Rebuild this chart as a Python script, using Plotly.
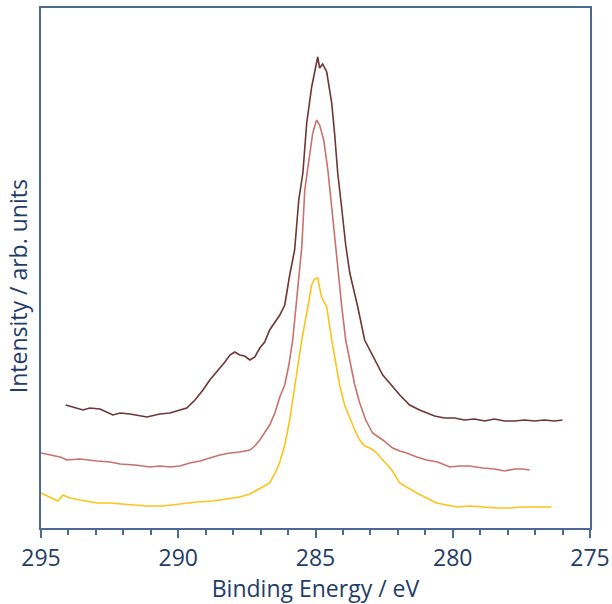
import plotly.graph_objects as go

# Binding energy (eV) and intensity (arb. units)
top_be = [294.1, 293.76, 293.47, 293.22, 292.85, 292.38, 292.12, 291.76, 291.14, 290.67, 290.30, 289.94,
          289.69, 289.39, 289.10, 288.85, 288.48, 288.30, 288.12, 287.94, 287.76, 287.58, 287.39, 287.21,
          287.03, 286.85, 286.67, 286.48, 286.30, 286.12, 285.94, 285.76, 285.61, 285.46, 285.32, 285.14,
          285.03, 284.92, 284.85, 284.74, 284.59, 284.41, 284.30, 284.19, 284.05, 283.90, 283.75, 283.46,
          283.21, 282.84, 282.55, 282.30, 281.93, 281.57, 281.21, 280.66, 280.30, 279.93, 279.57, 279.20,
          278.84, 278.48, 278.11, 277.75, 277.38, 277.02, 276.66, 276.29, 276.00]
top_int = [123, 120, 118, 120, 119, 113, 115, 114, 111, 114, 115, 118,
           120, 128, 138, 148, 160, 166, 173, 176, 173, 172, 168, 171,
           180, 186, 198, 206, 213, 223, 253, 278, 328, 355, 405, 441,
           458, 471, 460, 464, 456, 425, 393, 355, 321, 283, 255, 221,
           188, 168, 153, 145, 133, 123, 118, 112, 110, 110, 108, 109,
           107, 109, 107, 107, 108, 107, 108, 107, 108]

mid_be = [295.0, 294.67, 294.31, 294.05, 293.58, 292.96, 292.49, 292.12, 291.58, 291.03, 290.67, 290.30,
          289.94, 289.58, 289.21, 288.85, 288.48, 288.12, 287.76, 287.39, 287.21, 287.03, 286.85, 286.67,
          286.48, 286.30, 286.12, 285.97, 285.83, 285.65, 285.50, 285.39, 285.25, 285.10, 284.96, 284.85,
          284.70, 284.55, 284.41, 284.23, 284.05, 283.90, 283.75, 283.57, 283.39, 283.17, 282.92, 282.55,
          282.19, 281.93, 281.68, 281.31, 280.95, 280.55, 280.11, 279.75, 279.39, 278.91, 278.48, 278.11,
          277.75, 277.46, 277.20]
mid_int = [75, 73, 71, 68, 69, 67, 66, 64, 63, 61, 62, 61,
           62, 65, 67, 70, 73, 75, 76, 78, 82, 88, 95, 103,
           115, 131, 143, 163, 188, 243, 281, 338, 368, 395, 408, 403,
           388, 358, 321, 271, 223, 188, 168, 143, 125, 108, 95, 88,
           80, 77, 75, 71, 68, 66, 61, 62, 62, 60, 59, 57,
           59, 59, 58]

low_be = [295.0, 294.67, 294.38, 294.20, 293.94, 293.58, 293.22, 292.96, 292.49, 292.02, 291.58, 291.14,
          290.56, 289.94, 289.32, 288.74, 288.12, 287.76, 287.39, 287.14, 286.85, 286.67, 286.45, 286.30,
          286.12, 285.94, 285.72, 285.50, 285.28, 285.14, 285.03, 284.92, 284.78, 284.59, 284.41, 284.26,
          284.12, 283.94, 283.75, 283.57, 283.39, 283.21, 283.02, 282.81, 282.55, 282.22, 281.93, 281.64,
          281.31, 280.95, 280.59, 280.22, 279.86, 279.39, 278.91, 278.40, 277.93, 277.46, 276.95, 276.40]
low_int = [35, 31, 27, 33, 30, 28, 26, 25, 25, 24, 23, 22,
           22, 24, 26, 27, 30, 31, 34, 38, 42, 45, 56, 66,
           83, 108, 148, 188, 221, 243, 249, 250, 231, 221, 188, 163,
           143, 123, 110, 98, 88, 82, 80, 76, 68, 58, 45, 40,
           35, 30, 25, 23, 21, 22, 21, 20, 20, 21, 21, 21]

x_ticks = [295, 290, 285, 280, 275]

axis_color = "#4a6a93"
text_color = "#1f3d66"

fig = go.Figure()
fig.add_trace(go.Scatter(x=low_be, y=low_int, mode="lines", line=dict(color="#fcc419", width=1.6)))
fig.add_trace(go.Scatter(x=mid_be, y=mid_int, mode="lines", line=dict(color="#c9716e", width=1.6)))
fig.add_trace(go.Scatter(x=top_be, y=top_int, mode="lines", line=dict(color="#6e3535", width=1.6)))

fig.update_layout(
    width=612, height=604,
    margin=dict(l=41, r=22, t=8, b=76),
    paper_bgcolor="white", plot_bgcolor="white",
    showlegend=False,
    font=dict(family="Open Sans", color=text_color),
)
fig.update_xaxes(
    range=[295, 275], tickvals=x_ticks, ticktext=[str(v) for v in x_ticks],
    showgrid=False, zeroline=False, automargin=False,
    showline=True, linecolor=axis_color, linewidth=2, mirror=True,
    ticks="outside", ticklen=8, tickwidth=1.5, tickcolor=axis_color,
    minor=dict(dtick=1, ticks="outside", ticklen=5, tickwidth=1.5, tickcolor=axis_color, showgrid=False),
    tickfont=dict(size=23, color=text_color),
    title=dict(text="Binding Energy / eV", font=dict(size=23, color=text_color), standoff=6),
)
fig.update_yaxes(
    range=[0, 520], showticklabels=False, ticks="", showgrid=False, zeroline=False, automargin=False,
    showline=True, linecolor=axis_color, linewidth=2, mirror=True,
)
fig.add_annotation(
    text="Intensity / arb. units", textangle=-90, showarrow=False,
    xref="paper", yref="paper", x=0, y=0.465, xanchor="center", yanchor="middle",
    xshift=-23, font=dict(size=23, color=text_color),
)

fig.write_html("out.html", config={"displayModeBar": False},
               post_script="document.body.style.margin='0';")
